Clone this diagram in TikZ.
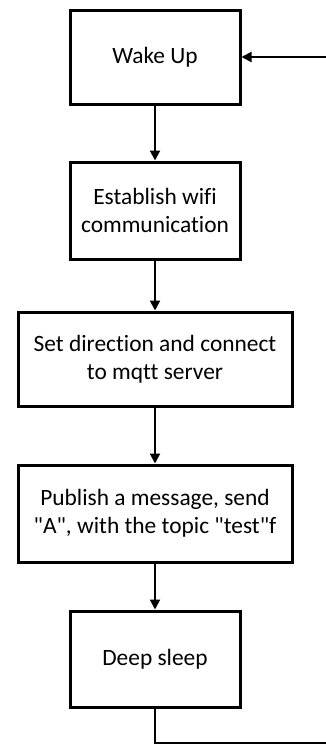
\documentclass[tikz,border=0pt]{standalone}
\usepackage{fontspec}
\setmainfont{Carlito}[Ligatures={NoCommon,TeXOff}]
\usetikzlibrary{arrows.meta}

\tikzset{
  stepbox/.style={draw, line width=1.5pt, align=center, inner sep=0pt,
    font=\fontsize{11.7}{14}\selectfont},
  flow/.style={line width=1pt, -{Triangle[length=5pt,width=5pt]}}
}

\begin{document}
\begin{tikzpicture}[x=0.5pt,y=-0.5pt]
      \useasboundingbox (0,0) rectangle (326,744);
      \clip (0,0) rectangle (326,744);
      % the five steps, top to bottom
      \node[stepbox, minimum width=85pt, minimum height=47pt]  (wake)    at (155, 57.0) {Wake Up};
      \node[stepbox, minimum width=85pt, minimum height=48.5pt] (wifi)   at (155,210.5) {Establish wifi\\communication};
      \node[stepbox, minimum width=137pt, minimum height=47pt] (mqtt)    at (155,359.0) {Set direction and connect\\to mqtt server};
      \node[stepbox, minimum width=137pt, minimum height=48.5pt] (publish) at (155,513.5) {Publish a message, send\\"A", with the topic "test"f};
      \node[stepbox, minimum width=85pt, minimum height=48pt]  (sleep)   at (155,659.0) {Deep sleep};
      % return path runs just outside the right edge
      \coordinate (loopbot) at (330,743);
      \draw[flow] (wake) -- (wifi);
      \draw[flow] (wifi) -- (mqtt);
      \draw[flow] (mqtt) -- (publish);
      \draw[flow] (publish) -- (sleep);
      \draw[flow] (sleep.south) |- (loopbot) |- (wake.east);
     \end{tikzpicture}
\end{document}
